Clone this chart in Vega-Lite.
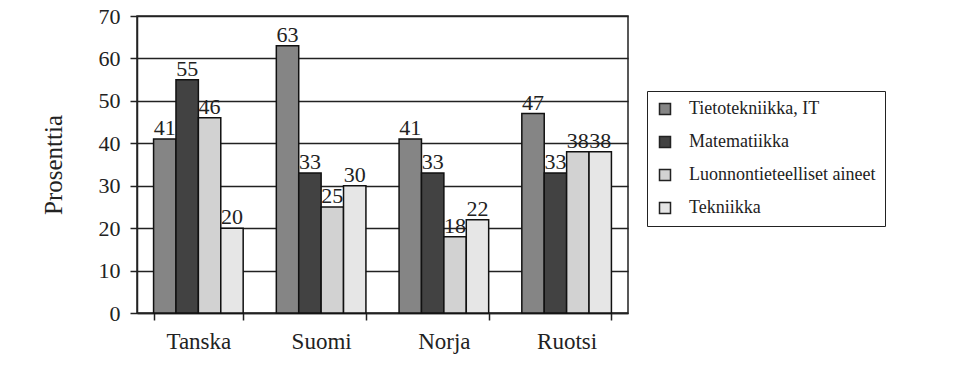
{
  "$schema": "https://vega.github.io/schema/vega-lite/v6.json",
  "width": 491,
  "height": 297,
  "autosize": {"type": "none"},
  "padding": {"left": 137, "top": 16, "right": 325, "bottom": 56},
  "background": "white",
  "data": {
    "values": [
      {"maa": "Tanska", "aine": "Tietotekniikka, IT", "prosentti": 41},
      {"maa": "Tanska", "aine": "Matematiikka", "prosentti": 55},
      {"maa": "Tanska", "aine": "Luonnontieteelliset aineet", "prosentti": 46},
      {"maa": "Tanska", "aine": "Tekniikka", "prosentti": 20},
      {"maa": "Suomi", "aine": "Tietotekniikka, IT", "prosentti": 63},
      {"maa": "Suomi", "aine": "Matematiikka", "prosentti": 33},
      {"maa": "Suomi", "aine": "Luonnontieteelliset aineet", "prosentti": 25},
      {"maa": "Suomi", "aine": "Tekniikka", "prosentti": 30},
      {"maa": "Norja", "aine": "Tietotekniikka, IT", "prosentti": 41},
      {"maa": "Norja", "aine": "Matematiikka", "prosentti": 33},
      {"maa": "Norja", "aine": "Luonnontieteelliset aineet", "prosentti": 18},
      {"maa": "Norja", "aine": "Tekniikka", "prosentti": 22},
      {"maa": "Ruotsi", "aine": "Tietotekniikka, IT", "prosentti": 47},
      {"maa": "Ruotsi", "aine": "Matematiikka", "prosentti": 33},
      {"maa": "Ruotsi", "aine": "Luonnontieteelliset aineet", "prosentti": 38},
      {"maa": "Ruotsi", "aine": "Tekniikka", "prosentti": 38}
    ]
  },
  "encoding": {
    "x": {
      "field": "maa",
      "type": "nominal",
      "sort": ["Tanska", "Suomi", "Norja", "Ruotsi"],
      "scale": {"paddingInner": 0.27, "paddingOuter": 0.135},
      "axis": {
        "title": null,
        "labelAngle": 0,
        "tickBand": "extent",
        "tickSize": 7,
        "tickColor": "#222",
        "tickWidth": 1.5,
        "domainColor": "#222",
        "domainWidth": 1.5,
        "labelPadding": 10,
        "labelFont": "Liberation Serif",
        "labelFontSize": 23,
        "labelColor": "#222"
      }
    },
    "xOffset": {
      "field": "aine",
      "type": "nominal",
      "sort": ["Tietotekniikka, IT", "Matematiikka", "Luonnontieteelliset aineet", "Tekniikka"]
    },
    "y": {
      "field": "prosentti",
      "type": "quantitative",
      "scale": {"domain": [0, 70], "nice": false},
      "axis": {
        "title": "Prosenttia",
        "values": [0, 10, 20, 30, 40, 50, 60, 70],
        "grid": true,
        "gridColor": "#222",
        "gridWidth": 1.5,
        "tickSize": 7,
        "tickColor": "#222",
        "tickWidth": 1.5,
        "domainColor": "#222",
        "domainWidth": 1.5,
        "labelPadding": 10,
        "labelFont": "Liberation Serif",
        "labelFontSize": 22,
        "labelColor": "#222",
        "titleFont": "Liberation Serif",
        "titleFontSize": 25,
        "titleFontWeight": "normal",
        "titleColor": "#222",
        "titlePadding": 32
      }
    }
  },
  "layer": [
    {
      "mark": {"type": "bar", "stroke": "#111", "strokeWidth": 1.5},
      "encoding": {
        "fill": {
          "field": "aine",
          "type": "nominal",
          "scale": {
            "domain": ["Tietotekniikka, IT", "Matematiikka", "Luonnontieteelliset aineet", "Tekniikka"],
            "range": ["#858585", "#424242", "#d2d2d2", "#e6e6e6"]
          },
          "legend": {
            "title": null,
            "orient": "none",
            "legendX": 510,
            "legendY": 75,
            "strokeColor": "#222",
            "fillColor": "white",
            "padding": 9,
            "symbolType": "square",
            "symbolSize": 121,
            "symbolStrokeColor": "#222",
            "symbolStrokeWidth": 1.5,
            "labelFont": "Liberation Serif",
            "labelFontSize": 18,
            "labelColor": "#222",
            "labelOffset": 15,
            "rowPadding": 15,
            "labelLimit": 400
          }
        }
      }
    },
    {
      "mark": {
        "type": "text",
        "baseline": "alphabetic",
        "dy": -4,
        "font": "Liberation Serif",
        "fontSize": 22,
        "color": "#222"
      },
      "encoding": {
        "text": {"field": "prosentti", "type": "quantitative"}
      }
    }
  ],
  "config": {
    "view": {"stroke": "#222", "strokeWidth": 1.5}
  }
}
